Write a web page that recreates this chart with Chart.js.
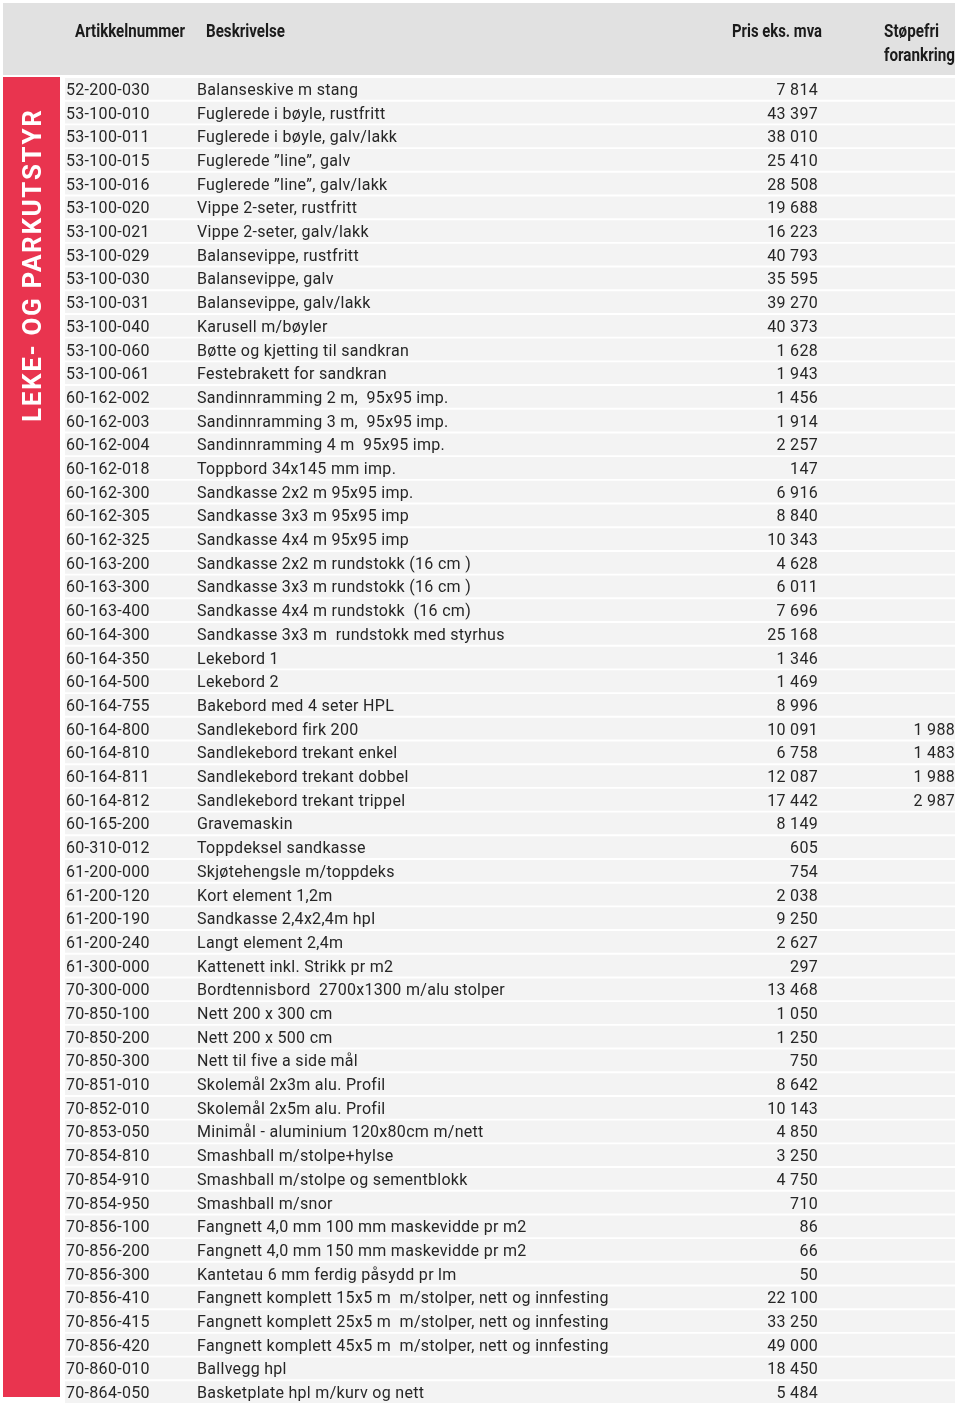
<!DOCTYPE html>
<html>
<head>
<meta charset="utf-8">
<script src="https://cdn.jsdelivr.net/npm/chart.js@4/dist/chart.umd.min.js"></script>
<style>
  html, body { margin: 0; padding: 0; background: #fff; overflow: hidden; }
  canvas { display: block; }
</style>
</head>
<body>
<canvas id="myChart" width="960" height="1404"></canvas>
<script>
// table content
var headers = ["Artikkelnummer", "Beskrivelse", "Pris eks. mva", "Støpefri", "forankring"];
var sideTitle = "LEKE- OG PARKUTSTYR";

var artNo = [
  "52-200-030","53-100-010","53-100-011","53-100-015","53-100-016","53-100-020","53-100-021",
  "53-100-029","53-100-030","53-100-031","53-100-040","53-100-060","53-100-061","60-162-002",
  "60-162-003","60-162-004","60-162-018","60-162-300","60-162-305","60-162-325","60-163-200",
  "60-163-300","60-163-400","60-164-300","60-164-350","60-164-500","60-164-755","60-164-800",
  "60-164-810","60-164-811","60-164-812","60-165-200","60-310-012","61-200-000","61-200-120",
  "61-200-190","61-200-240","61-300-000","70-300-000","70-850-100","70-850-200","70-850-300",
  "70-851-010","70-852-010","70-853-050","70-854-810","70-854-910","70-854-950","70-856-100",
  "70-856-200","70-856-300","70-856-410","70-856-415","70-856-420","70-860-010","70-864-050"
];

var descriptions = [
  "Balanseskive m stang",
  "Fuglerede i bøyle, rustfritt",
  "Fuglerede i bøyle, galv/lakk",
  "Fuglerede ”line”, galv",
  "Fuglerede ”line”, galv/lakk",
  "Vippe 2-seter, rustfritt",
  "Vippe 2-seter, galv/lakk",
  "Balansevippe, rustfritt",
  "Balansevippe, galv",
  "Balansevippe, galv/lakk",
  "Karusell m/bøyler",
  "Bøtte og kjetting til sandkran",
  "Festebrakett for sandkran",
  "Sandinnramming 2 m,  95x95 imp.",
  "Sandinnramming 3 m,  95x95 imp.",
  "Sandinnramming 4 m  95x95 imp.",
  "Toppbord 34x145 mm imp.",
  "Sandkasse 2x2 m 95x95 imp.",
  "Sandkasse 3x3 m 95x95 imp",
  "Sandkasse 4x4 m 95x95 imp",
  "Sandkasse 2x2 m rundstokk (16 cm )",
  "Sandkasse 3x3 m rundstokk (16 cm )",
  "Sandkasse 4x4 m rundstokk  (16 cm)",
  "Sandkasse 3x3 m  rundstokk med styrhus",
  "Lekebord 1",
  "Lekebord 2",
  "Bakebord med 4 seter HPL",
  "Sandlekebord firk 200",
  "Sandlekebord trekant enkel",
  "Sandlekebord trekant dobbel",
  "Sandlekebord trekant trippel",
  "Gravemaskin",
  "Toppdeksel sandkasse",
  "Skjøtehengsle m/toppdeks",
  "Kort element 1,2m",
  "Sandkasse 2,4x2,4m hpl",
  "Langt element 2,4m",
  "Kattenett inkl. Strikk pr m2",
  "Bordtennisbord  2700x1300 m/alu stolper",
  "Nett 200 x 300 cm",
  "Nett 200 x 500 cm",
  "Nett til five a side mål",
  "Skolemål 2x3m alu. Profil",
  "Skolemål 2x5m alu. Profil",
  "Minimål - aluminium 120x80cm m/nett",
  "Smashball m/stolpe+hylse",
  "Smashball m/stolpe og sementblokk",
  "Smashball m/snor",
  "Fangnett 4,0 mm 100 mm maskevidde pr m2",
  "Fangnett 4,0 mm 150 mm maskevidde pr m2",
  "Kantetau 6 mm ferdig påsydd pr lm",
  "Fangnett komplett 15x5 m  m/stolper, nett og innfesting",
  "Fangnett komplett 25x5 m  m/stolper, nett og innfesting",
  "Fangnett komplett 45x5 m  m/stolper, nett og innfesting",
  "Ballvegg hpl",
  "Basketplate hpl m/kurv og nett"
];

var prices = [
  7814, 43397, 38010, 25410, 28508, 19688, 16223, 40793, 35595, 39270, 40373, 1628, 1943, 1456,
  1914, 2257, 147, 6916, 8840, 10343, 4628, 6011, 7696, 25168, 1346, 1469, 8996, 10091,
  6758, 12087, 17442, 8149, 605, 754, 2038, 9250, 2627, 297, 13468, 1050, 1250, 750,
  8642, 10143, 4850, 3250, 4750, 710, 86, 66, 50, 22100, 33250, 49000, 18450, 5484
];

var stopefri = [
  null, null, null, null, null, null, null, null, null, null, null, null, null, null,
  null, null, null, null, null, null, null, null, null, null, null, null, null, 1988,
  1483, 1988, 2987, null, null, null, null, null, null, null, null, null, null, null,
  null, null, null, null, null, null, null, null, null, null, null, null, null, null
];

function fmt(n) {
  return String(n).replace(/\B(?=(\d{3})+(?!\d))/g, " ");
}

// draw condensed header text squeezed to a width, left edge at x
function squeezeText(ctx, txt, x, y, width) {
  var w = ctx.measureText(txt).width;
  ctx.save();
  ctx.translate(x, y);
  ctx.scale(width / w, 1);
  ctx.fillText(txt, 0, 0);
  ctx.restore();
}

var tablePlugin = {
  id: "tableText",
  beforeDraw: function(chart) {
    var ctx = chart.ctx;
    ctx.save();
    // header band
    ctx.fillStyle = "#e1e1e1";
    ctx.fillRect(3, 3, 952, 72);
    // red side band
    ctx.fillStyle = "#e9344f";
    ctx.fillRect(3, 77, 57, 1320);
    ctx.restore();
  },
  afterDatasetsDraw: function(chart) {
    var ctx = chart.ctx;
    var y = chart.scales.y;
    ctx.save();

    // header text
    ctx.fillStyle = "#1b1b1b";
    ctx.font = "bold 19px Roboto, sans-serif";
    ctx.textBaseline = "middle";
    ctx.textAlign = "left";
    squeezeText(ctx, headers[0], 75, 32, 110);
    squeezeText(ctx, headers[1], 206, 32, 79);
    squeezeText(ctx, headers[2], 732, 32, 90);
    squeezeText(ctx, headers[3], 884, 32, 55);
    squeezeText(ctx, headers[4], 884, 56, 71);

    // side title, rotated
    ctx.save();
    ctx.translate(33, 266);
    ctx.rotate(-Math.PI / 2);
    ctx.font = "bold 26px Roboto, sans-serif";
    var w = ctx.measureText(sideTitle).width;
    var sp = (312 - w) / (sideTitle.length - 1);
    ctx.letterSpacing = sp.toFixed(2) + "px";
    ctx.fillStyle = "#ffffff";
    ctx.textAlign = "center";
    ctx.textBaseline = "middle";
    ctx.fillText(sideTitle, sp / 2, 1);
    ctx.restore();

    // rows
    ctx.fillStyle = "#262626";
    ctx.font = "16px Roboto, sans-serif";
    ctx.letterSpacing = "0.3px";
    ctx.textBaseline = "middle";
    for (var i = 0; i < artNo.length; i++) {
      var py = y.getPixelForValue(i) + 2;
      ctx.textAlign = "left";
      ctx.fillText(artNo[i], 66, py);
      ctx.fillText(descriptions[i], 197, py);
      ctx.textAlign = "right";
      ctx.fillText(fmt(prices[i]), 818, py);
      if (stopefri[i] !== null) {
        ctx.fillText(fmt(stopefri[i]), 955, py);
      }
    }
    ctx.restore();
  }
};

var ctx = document.getElementById("myChart");
var myChart = new Chart(ctx, {
  type: "bar",
  data: {
    labels: artNo,
    datasets: [{
      data: artNo.map(function() { return [0, 1]; }),
      backgroundColor: "#f3f3f3",
      borderWidth: 0,
      barPercentage: 0.92,
      categoryPercentage: 1
    }]
  },
  options: {
    indexAxis: "y",
    responsive: false,
    animation: false,
    devicePixelRatio: 1,
    layout: { padding: { left: 65, right: 5, top: 77, bottom: 0 } },
    scales: {
      x: { display: false, min: 0, max: 1 },
      y: { display: false }
    },
    plugins: {
      legend: { display: false },
      tooltip: { enabled: false }
    }
  },
  plugins: [tablePlugin]
});
</script>
</body>
</html>
